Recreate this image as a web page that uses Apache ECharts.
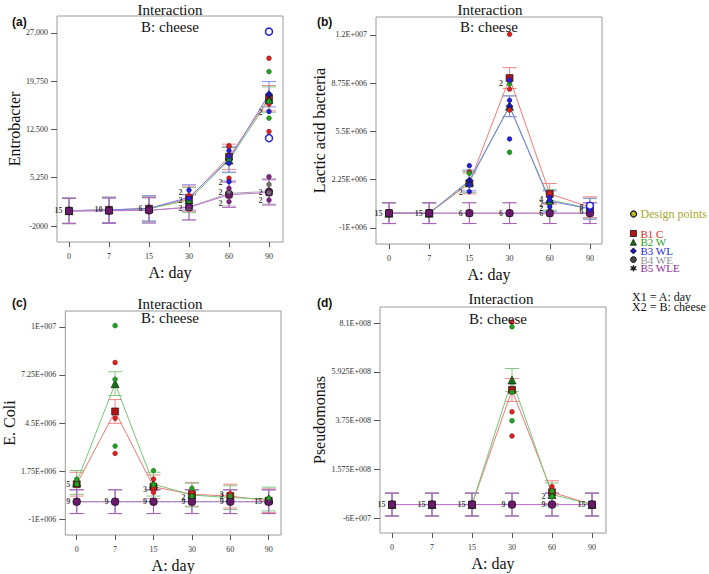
<!DOCTYPE html>
<html><head><meta charset="utf-8">
<script src="https://cdn.jsdelivr.net/npm/echarts@6/dist/echarts.min.js"></script>
<style>html,body{margin:0;padding:0;background:#fff}#c{width:709px;height:574px}</style>
</head><body><div id="c"></div>
<script>
// ---------- data ----------
const days = ['0', '7', '15', '30', '60', '90'];
const dayIdx = [0, 1, 2, 3, 4, 5];
const groupNames = ['B1 C', 'B2 W', 'B3 WL', 'B4 WE', 'B5 WLE'];

// (a) Entrobacter
const aTicks = [-2000, 5250, 12500, 19750, 27000];
const aTickLabels = ['-2000', '5,250', '12,500', '19,750', '27,000'];
const aB1 = [300, 420, 600, 2100, 8400, 17200];
const aB2 = [300, 420, 600, 1900, 7900, 17000];
const aB3 = [300, 420, 650, 2300, 8000, 17800];
const aB4 = [250, 300, 350, 850, 2900, 3200];
const aB5 = [250, 300, 350, 800, 2700, 3050];
const aLsd = 1900;
const aPtsB1 = [[3, 2600], [4, 10070], [4, 9900], [4, 5170], [5, 23200], [5, 16300], [5, 12200]];
const aPtsB2 = [[3, 1800], [4, 8200], [4, 7700], [5, 21200], [5, 16700], [5, 14200]];
const aPtsB3 = [[3, 3400], [3, 2150], [4, 9320], [4, 8500], [4, 7420], [4, 4660], [5, 15200]];
const aPtsB4 = [[3, 700], [4, 3150], [5, 4250], [5, 3000]];
const aPtsB5 = [[3, 900], [4, 3660], [4, 1650], [5, 5400], [5, 1900]];
const aOpenB3 = [[5, 27200], [5, 11200]];
const aCounts = [[0, 300, '15'], [1, 420, '10'], [2, 600, '6'], [3, 3100, '2'], [3, 1900, '2'], [3, 700, '2'],
  [4, 4600, '2'], [4, 3000, '2'], [4, 1450, '2'], [5, 15100, '2'], [5, 3000, '2'], [5, 1900, '2']];

// (b) Lactic acid bacteria
const bTicks = [-1e6, 2.25e6, 5.5e6, 8.75e6, 1.2e7];
const bTickLabels = ['-1E+006', '2.25E+006', '5.5E+006', '8.75E+006', '1.2E+007'];
const bB1 = [0, 0, 2.0e6, 9.1e6, 1.3e6, 0.4e6];
const bB2 = [0, 0, 2.1e6, 7.2e6, 0.9e6, 0.3e6];
const bB3 = [0, 0, 2.2e6, 7.2e6, 0.8e6, 0.3e6];
const bB4 = [0, 0, 0, 0, 0, 0];
const bB5 = [0, 0, 0, 0, 0, 0];
const bLsd = 0.7e6;
const bPtsB1 = [[2, 2.79e6], [3, 12.05e6], [3, 8.35e6], [3, 6.94e6], [4, 1.34e6]];
const bPtsB2 = [[2, 2.68e6], [3, 8.7e6], [3, 4.1e6], [4, 0.6e6]];
const bPtsB3 = [[2, 3.2e6], [2, 1.9e6], [2, 1.45e6], [3, 8.96e6], [3, 7.6e6], [3, 5.0e6], [4, 1.07e6], [4, 0.89e6], [4, 0.43e6], [5, 0.26e6]];
const bPtsB4 = [];
const bPtsB5 = [];
const bOpenB3 = [[5, 0.5e6]];
const bCounts = [[0, 0, '15'], [1, 0, '15'], [2, 0, '6'], [2, 1.38e6, '2'], [3, 0, '6'], [3, 8.7e6, '2'],
  [4, 0, '6'], [4, 0.89e6, '4'], [4, 0.6e6, '2'], [4, 0.3e6, '2'], [5, 0.35e6, '8'], [5, 0.1e6, '6']];

// (c) E. Coli
const cTicks = [-1e6, 1.75e6, 4.5e6, 7.25e6, 1e7];
const cTickLabels = ['-1E+006', '1.75E+006', '4.5E+006', '7.25E+006', '1E+007'];
const cB1 = [1.0e6, 5.16e6, 0.85e6, 0.42e6, 0.32e6, 0.05e6];
const cB2 = [1.1e6, 6.75e6, 1.0e6, 0.38e6, 0.23e6, 0.15e6];
const cB3 = [0, 0, 0, 0, 0, 0];
const cB4 = [0, 0, 0, 0, 0, 0];
const cB5 = [0, 0, 0, 0, 0, 0];
const cLsd = 0.68e6;
const cPtsB1 = [[0, 1.0e6], [1, 7.96e6], [1, 4.77e6], [1, 2.76e6], [2, 1.29e6], [2, 0.76e6], [2, 0.53e6], [3, 0.57e6], [4, 0.46e6]];
const cPtsB2 = [[0, 1.28e6], [0, 1.0e6], [1, 10.07e6], [1, 7.0e6], [1, 3.18e6], [2, 1.78e6], [2, 0.98e6], [3, 0.76e6], [3, 0.32e6], [4, 0.32e6], [5, 0.2e6]];
const cPtsB3 = [];
const cPtsB4 = [];
const cPtsB5 = [];
const cCounts = [[0, 0, '9'], [0, 0.98e6, '5'], [1, 0, '9'], [2, 0, '9'], [2, 0.7e6, '3'], [3, 0, '9'], [3, 0.25e6, '2'],
  [4, 0, '9'], [4, 0.42e6, '3'], [4, 0.28e6, '2'], [5, 0, '15']];

// (d) Pseudomonas
const dTicks = [-6e7, 1.575e8, 3.75e8, 5.925e8, 8.1e8];
const dTickLabels = ['-6E+007', '1.575E+008', '3.75E+008', '5.925E+008', '8.1E+008'];
const dB1 = [0, 0, 0, 5.11e8, 5.5e7, 0];
const dB2 = [0, 0, 0, 5.56e8, 4.5e7, 0];
const dB3 = [0, 0, 0, 0, 0, 0];
const dB4 = [0, 0, 0, 0, 0, 0];
const dB5 = [0, 0, 0, 0, 0, 0];
const dLsd = 5.1e7;
const dPtsB1 = [[3, 8.14e8], [3, 4.14e8], [3, 3.06e8], [4, 8.0e7]];
const dPtsB2 = [[3, 7.93e8], [3, 5.01e8], [3, 3.74e8], [4, 6.0e7], [4, 3.5e7]];
const dPtsB3 = [];
const dPtsB4 = [];
const dPtsB5 = [];
const dCounts = [[0, 0, '15'], [1, 0, '15'], [2, 0, '15'], [3, 0, '9'], [4, 0, '9'], [4, 3.5e7, '2'], [5, 0, '15']];

const yNames = ['Entrobacter', 'Lactic acid bacteria', 'E. Coli', 'Pseudomonas'];

// ---------- styles / layout ----------
const SERIF = 'Liberation Serif';
const markColor = ['#b01818', '#187018', '#1818b0', '#454545', '#6a1a6a'];
const lineColor = ['#f07878', '#78c478', '#7a7af0', '#a8a8a8', '#c078d0'];
const barColor = ['#f08888', '#88c888', '#8c8ce8', '#b8b8b8', '#a860b8'];
const ptColor = ['#dd2020', '#22a022', '#2222dd', '#707070', '#802080'];
const legendText = ['#e02828', '#28a028', '#2828d8', '#909090', '#8a2aa0'];
const starPath = 'path://M5,0 L6.2,3.2 L9.8,2.2 L7.4,5 L9.8,7.8 L6.2,6.8 L5,10 L3.8,6.8 L0.2,7.8 L2.6,5 L0.2,2.2 L3.8,3.2 Z';
const symbols = ['rect', 'triangle', 'diamond', 'circle', 'roundRect'];
const legendIcons = ['rect', 'triangle', 'diamond', 'circle', starPath];

const grids = [
  {left: 57, top: 16, width: 226, height: 226},
  {left: 376, top: 17, width: 226, height: 227},
  {left: 54, top: 311, width: 227, height: 226},
  {left: 380, top: 307, width: 226, height: 226}
];
const xRanges = [[-0.3, 5.35], [-0.323, 5.30], [-0.297, 5.32], [-0.3, 5.35]];
const yRanges = [[-4404, 29554], [-2.078e6, 13.212e6], [-1.907e6, 10.907e6], [-1.269e8, 8.814e8]];
const yNameGaps = [29, 45, 40, 46];

const panels = [
  {means: [aB1, aB2, aB3, aB4, aB5], lsd: aLsd, pts: [aPtsB1, aPtsB2, aPtsB3, aPtsB4, aPtsB5], open: aOpenB3, counts: aCounts, ticks: aTicks, tickLabels: aTickLabels},
  {means: [bB1, bB2, bB3, bB4, bB5], lsd: bLsd, pts: [bPtsB1, bPtsB2, bPtsB3, bPtsB4, bPtsB5], open: bOpenB3, counts: bCounts, ticks: bTicks, tickLabels: bTickLabels},
  {means: [cB1, cB2, cB3, cB4, cB5], lsd: cLsd, pts: [cPtsB1, cPtsB2, cPtsB3, cPtsB4, cPtsB5], open: [], counts: cCounts, ticks: cTicks, tickLabels: cTickLabels},
  {means: [dB1, dB2, dB3, dB4, dB5], lsd: dLsd, pts: [dPtsB1, dPtsB2, dPtsB3, dPtsB4, dPtsB5], open: [], counts: dCounts, ticks: dTicks, tickLabels: dTickLabels}
];

function errRender(params, api) {
  const x = api.value(0), lo = api.value(1), hi = api.value(2);
  const pLo = api.coord([x, lo]), pHi = api.coord([x, hi]);
  const w = 7;
  const style = {stroke: api.visual('color'), lineWidth: 1, fill: null};
  return {type: 'group', children: [
    {type: 'line', shape: {x1: pLo[0], y1: pLo[1], x2: pHi[0], y2: pHi[1]}, style: style},
    {type: 'line', shape: {x1: pLo[0] - w, y1: pLo[1], x2: pLo[0] + w, y2: pLo[1]}, style: style},
    {type: 'line', shape: {x1: pHi[0] - w, y1: pHi[1], x2: pHi[0] + w, y2: pHi[1]}, style: style}
  ]};
}

const xAxes = [], yAxes = [], series = [];
panels.forEach((p, k) => {
  xAxes.push({
    type: 'value', gridIndex: k, min: xRanges[k][0], max: xRanges[k][1], position: 'bottom',
    axisLine: {show: false, onZero: false}, splitLine: {show: false},
    axisTick: {show: true, length: 5, customValues: dayIdx, lineStyle: {color: '#555'}},
    axisLabel: {customValues: dayIdx, formatter: v => days[Math.round(v)], fontSize: 8, color: '#333', fontFamily: SERIF, margin: 10},
    name: 'A: day', nameLocation: 'middle', nameGap: 22,
    nameTextStyle: {fontSize: 16, fontFamily: SERIF, color: '#111'}
  });
  yAxes.push({
    type: 'value', gridIndex: k, min: yRanges[k][0], max: yRanges[k][1], position: 'left',
    axisLine: {show: false, onZero: false}, splitLine: {show: false},
    axisTick: {show: true, length: 6, customValues: p.ticks, lineStyle: {color: '#555'}},
    axisLabel: {customValues: p.ticks, fontSize: 8, color: '#333', fontFamily: SERIF, margin: 9,
      formatter: v => { let bi = 0, bd = Infinity; p.ticks.forEach((t, i) => { const d = Math.abs(t - v); if (d < bd) { bd = d; bi = i; } }); return p.tickLabels[bi]; }},
    name: yNames[k], nameLocation: 'middle', nameGap: yNameGaps[k],
    nameTextStyle: {fontSize: 16, fontFamily: SERIF, color: '#111'}
  });
  for (let g = 0; g < 5; g++) {
    series.push({
      type: 'custom', name: groupNames[g], xAxisIndex: k, yAxisIndex: k, z: 1, silent: true,
      itemStyle: {color: barColor[g]}, renderItem: errRender, encode: {x: 0, y: [1, 2]},
      data: p.means[g].map((v, i) => [i, v - p.lsd, v + p.lsd])
    });
  }
  for (let g = 0; g < 5; g++) {
    series.push({
      type: 'line', name: groupNames[g], xAxisIndex: k, yAxisIndex: k, z: 2,
      symbol: symbols[g], symbolSize: g === 1 ? 8 : 7,
      itemStyle: {color: markColor[g], borderColor: '#111', borderWidth: 0.6},
      lineStyle: {color: lineColor[g], width: 1, type: (k === 2 && g === 4) ? 'dashed' : 'solid'},
      data: p.means[g].map((v, i) => [i, v])
    });
  }
  for (let g = 0; g < 5; g++) {
    series.push({
      type: 'scatter', name: 'Design points', xAxisIndex: k, yAxisIndex: k, z: 3,
      symbol: 'circle', symbolSize: 5,
      itemStyle: {color: ptColor[g], borderColor: 'rgba(0,0,0,0.45)', borderWidth: 0.5, opacity: 1},
      data: p.pts[g]
    });
  }
  series.push({
    type: 'scatter', name: 'Design points', xAxisIndex: k, yAxisIndex: k, z: 3,
    symbol: 'circle', symbolSize: 7,
    itemStyle: {color: '#fff', borderColor: '#2222dd', borderWidth: 1.5, opacity: 1},
    data: p.open
  });
  series.push({
    type: 'scatter', name: 'counts', xAxisIndex: k, yAxisIndex: k, z: 4, silent: true,
    symbolSize: 1, itemStyle: {color: 'rgba(0,0,0,0)'},
    label: {show: true, position: 'left', distance: 6, formatter: '{b}', fontSize: 8, fontWeight: 'bold', fontFamily: SERIF, color: '#111'},
    labelLayout: {hideOverlap: false},
    data: p.counts.map(c => ({value: [c[0], c[1]], name: c[2]}))
  });
});

const titleStyle = {fontSize: 15, fontWeight: 'normal', fontFamily: SERIF, color: '#111', lineHeight: 15};
const tagStyle = {fontSize: 12, fontWeight: 'bold', fontFamily: 'Liberation Sans', color: '#111', lineHeight: 12};
const titles = [
  {text: 'Interaction', left: 170, top: 2}, {text: 'B: cheese', left: 170, top: 19},
  {text: 'Interaction', left: 490, top: 2}, {text: 'B: cheese', left: 489, top: 19},
  {text: 'Interaction', left: 170, top: 296}, {text: 'B: cheese', left: 170, top: 310},
  {text: 'Interaction', left: 501, top: 291}, {text: 'B: cheese', left: 498, top: 311}
].map(t => Object.assign({textAlign: 'center', padding: 0, textStyle: titleStyle}, t));
const tags = [
  {text: '(a)', left: 12, top: 16}, {text: '(b)', left: 317, top: 16},
  {text: '(c)', left: 12, top: 297}, {text: '(d)', left: 317, top: 297}
].map(t => Object.assign({padding: 0, textStyle: tagStyle}, t));

const option = {
  animation: false,
  backgroundColor: '#fff',
  title: titles.concat(tags),
  grid: grids.map(gr => Object.assign({show: true, borderColor: '#9a9a9a', borderWidth: 1, backgroundColor: 'transparent'}, gr)),
  xAxis: xAxes,
  yAxis: yAxes,
  legend: [
    {
      left: 630, top: 208, padding: 0, orient: 'vertical', itemWidth: 6, itemHeight: 6, itemGap: 0, selectedMode: false,
      textStyle: {fontSize: 12, fontFamily: SERIF, color: '#a8a830', padding: [0, 0, 0, -1]},
      data: [{name: 'Design points', icon: 'circle', itemStyle: {color: '#b8b828', borderColor: '#111', borderWidth: 1.2}}]
    },
    {
      left: 630, top: 228, padding: 0, orient: 'vertical', itemWidth: 6, itemHeight: 6, itemGap: -2.3, selectedMode: false,
      textStyle: {fontSize: 11, fontFamily: SERIF, lineHeight: 9, padding: [0, 0, 0, -1]},
      data: groupNames.map((n, g) => ({name: n, icon: legendIcons[g],
        itemStyle: {color: g === 4 ? '#222' : markColor[g], borderColor: '#111', borderWidth: 0.8},
        lineStyle: {opacity: 0},
        textStyle: {color: legendText[g]}}))
    }
  ],
  graphic: [
    {type: 'text', left: 632, top: 291, style: {text: 'X1 = A: day', fontSize: 12, fontFamily: SERIF, fill: '#111'}},
    {type: 'text', left: 632, top: 301, style: {text: 'X2 = B: cheese', fontSize: 12, fontFamily: SERIF, fill: '#111'}}
  ],
  series: series
};

const chart = echarts.init(document.getElementById('c'), null, {renderer: 'svg'});
chart.setOption(option);
</script>
</body></html>
